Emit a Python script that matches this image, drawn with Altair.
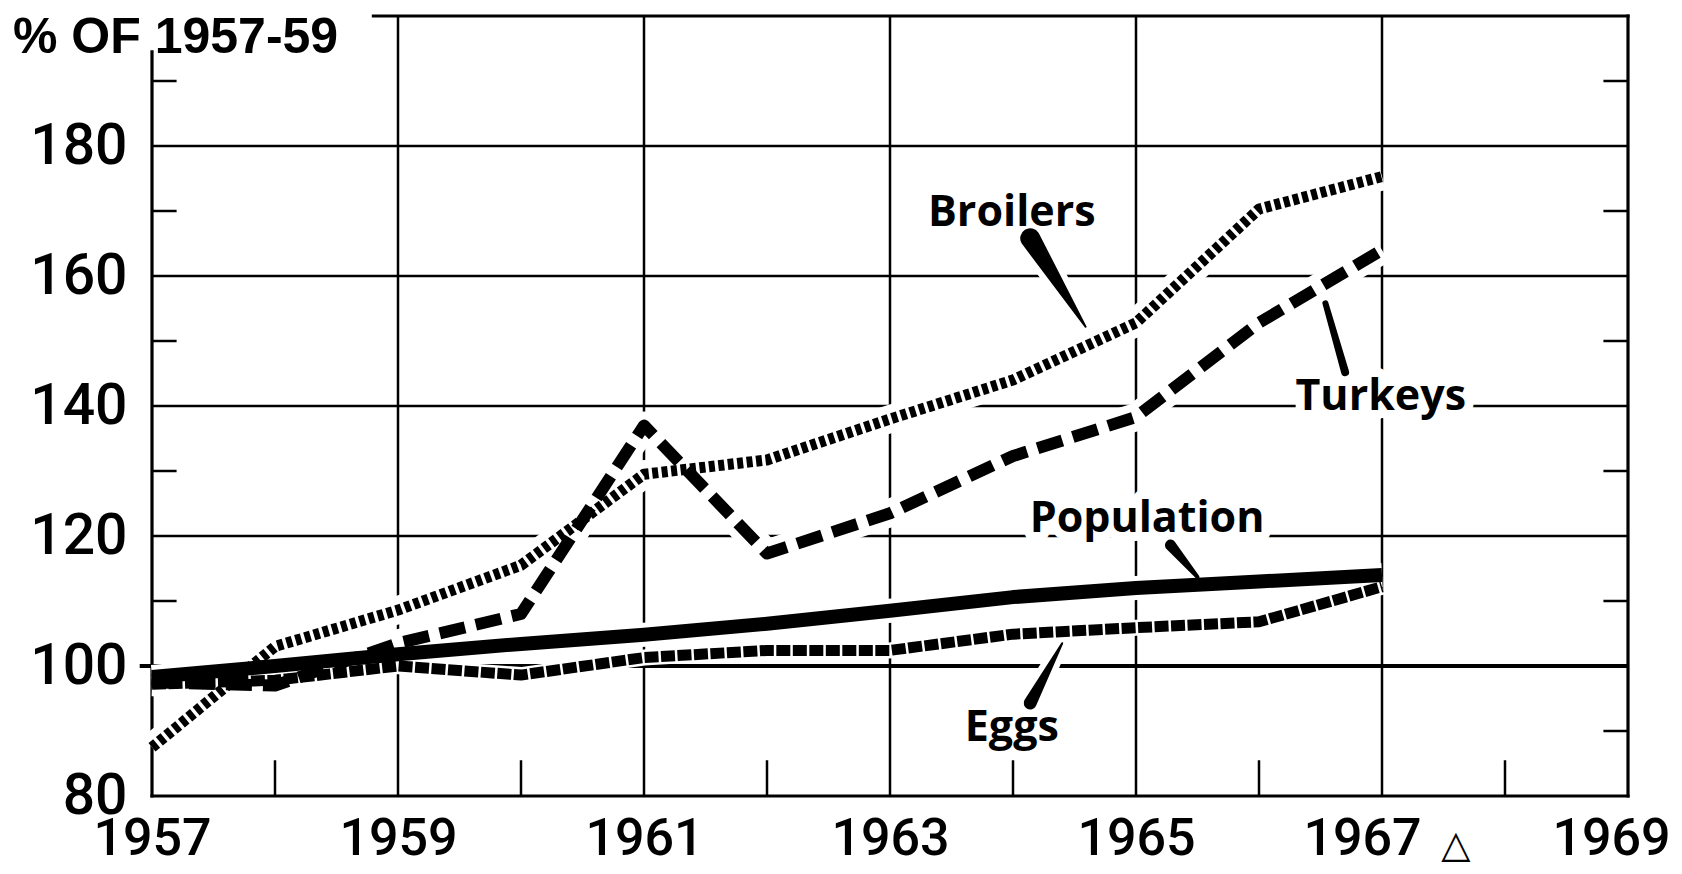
import altair as alt
import pandas as pd

# ---------------- data ----------------
years = [1957, 1958, 1959, 1960, 1961, 1962, 1963, 1964, 1965, 1966, 1967]
broilers = [87.5, 103.0, 108.6, 115.5, 129.5, 131.7, 138.0, 144.0, 152.8, 170.3, 175.3]
turkeys = [97.5, 97.0, 103.5, 108.0, 137.0, 117.3, 123.5, 132.3, 138.3, 152.8, 164.0]
population = [98.3, 100.0, 101.8, 103.4, 104.8, 106.5, 108.5, 110.6, 112.0, 113.0, 114.0]
eggs = [97.2, 97.8, 100.0, 98.6, 101.3, 102.4, 102.4, 104.9, 105.9, 106.8, 112.2]

x_tick_values = [1957, 1959, 1961, 1963, 1965, 1967, 1969]
y_tick_values = [80, 100, 120, 140, 160, 180]
x_grid_values = [1959, 1961, 1963, 1965, 1967]
y_grid_values = [120, 140, 160, 180]
minor_years = [1958, 1960, 1962, 1964, 1966, 1968]
minor_values = [90, 110, 130, 150, 170, 190]

title_text = "% OF 1957-59"

label_names = ["Broilers", "Turkeys", "Population", "Eggs"]
label_x = [1963.99, 1966.99, 1965.09, 1963.99]
label_y = [167.7, 139.4, 120.6, 88.5]

# leader wedges: start point / end point with widths
leader_names = ["Broilers", "Turkeys", "Population", "Eggs"]
leader_x0 = [1964.14, 1966.54, 1965.28, 1964.40]
leader_y0 = [165.8, 155.8, 118.6, 103.5]
leader_w0 = [20, 6, 11, 2]
leader_x1 = [1964.59, 1966.70, 1965.50, 1964.14]
leader_y1 = [152.2, 145.2, 113.7, 94.3]
leader_w1 = [2, 8, 4, 13]

marker_x = [1967.6]
marker_y = [72.3]
marker_text = ["\u25b3"]

# ---------------- tables ----------------
series_df = pd.DataFrame(
    [{"year": y, "value": v, "series": "Broilers"} for y, v in zip(years, broilers)]
    + [{"year": y, "value": v, "series": "Turkeys"} for y, v in zip(years, turkeys)]
    + [{"year": y, "value": v, "series": "Population"} for y, v in zip(years, population)]
    + [{"year": y, "value": v, "series": "Eggs"} for y, v in zip(years, eggs)]
)

grid_rows = []
for yr in x_grid_values:
    grid_rows.append({"x": yr, "x2": yr, "y": 80, "y2": 200})
for v in y_grid_values:
    grid_rows.append({"x": 1957, "x2": 1969, "y": v, "y2": v})
for yr in minor_years:
    grid_rows.append({"x": yr, "x2": yr, "y": 80, "y2": 85.5})
for v in minor_values:
    grid_rows.append({"x": 1957, "x2": 1957.2, "y": v, "y2": v})
    grid_rows.append({"x": 1968.8, "x2": 1969, "y": v, "y2": v})
grid_df = pd.DataFrame(grid_rows)

frame_df = pd.DataFrame([
    {"x": 1957, "x2": 1957, "y": 80, "y2": 194.5},      # left axis
    {"x": 1957, "x2": 1969, "y": 80, "y2": 80},          # bottom axis
    {"x": 1969, "x2": 1969, "y": 80, "y2": 200},         # right border
    {"x": 1958.8, "x2": 1969, "y": 200, "y2": 200},      # top border
])
hundred_df = pd.DataFrame([{"x": 1956.9, "x2": 1969, "y": 100, "y2": 100}])

label_df = pd.DataFrame({"name": label_names, "x": label_x, "y": label_y})

leader_rows = []
for i, n in enumerate(leader_names):
    leader_rows.append({"name": n, "order": 0, "x": leader_x0[i], "y": leader_y0[i], "w": leader_w0[i]})
    leader_rows.append({"name": n, "order": 1, "x": leader_x1[i], "y": leader_y1[i], "w": leader_w1[i]})
leader_df = pd.DataFrame(leader_rows)

marker_df = pd.DataFrame({"x": marker_x, "y": marker_y, "t": marker_text})
title_df = pd.DataFrame({"t": [title_text]})

# ---------------- scales / axes ----------------
XSCALE = alt.Scale(domain=[1957, 1969], nice=False, zero=False)
YSCALE = alt.Scale(domain=[80, 200], nice=False, zero=False)
XAXIS = alt.Axis(
    values=x_tick_values, title=None, grid=False, domain=False, ticks=False,
    format="d", labelFont="Roboto", labelFontWeight=500, labelFontSize=52,
    labelPadding=17, labelColor="black", labelFlush=False, labelOverlap=False,
    labelOffset={
        "condition": [
            {"test": "datum.value == 1967", "value": -20},
            {"test": "datum.value == 1969", "value": -17},
        ],
        "value": 0,
    },
)
YAXIS = alt.Axis(
    values=y_tick_values, title=None, grid=False, domain=False, ticks=False,
    format="d", labelFont="Roboto", labelFontWeight=500, labelFontSize=57, labelPadding=25,
    labelColor="black", labelFlush=False, labelOverlap=False,
)


def X(field="year"):
    return alt.X(f"{field}:Q", scale=XSCALE, axis=XAXIS)


def Y(field="value"):
    return alt.Y(f"{field}:Q", scale=YSCALE, axis=YAXIS)


def series_line(name, **mk):
    return (
        alt.Chart(series_df)
        .transform_filter(alt.datum.series == name)
        .mark_line(**mk)
        .encode(x=X(), y=Y())
    )


# ---------------- layers ----------------
grid = alt.Chart(grid_df).mark_rule(color="black", strokeWidth=2.5).encode(
    x=X("x"), x2="x2", y=Y("y"), y2="y2"
)
frame = alt.Chart(frame_df).mark_rule(color="black", strokeWidth=3.2, strokeCap="square").encode(
    x=X("x"), x2="x2", y=Y("y"), y2="y2"
)
hundred = alt.Chart(hundred_df).mark_rule(color="black", strokeWidth=4).encode(
    x=X("x"), x2="x2", y=Y("y"), y2="y2"
)

halos = [
    series_line("Broilers", color="white", strokeWidth=28, strokeCap="butt", strokeJoin="round"),
    series_line("Turkeys", color="white", strokeWidth=28, strokeCap="butt", strokeJoin="round"),
    series_line("Population", color="white", strokeWidth=24, strokeCap="butt", strokeJoin="round"),
    series_line("Eggs", color="white", strokeWidth=16, strokeCap="butt", strokeJoin="round"),
]

leader_halo = (
    alt.Chart(leader_df)
    .transform_calculate(hw="datum.w + 12")
    .mark_trail(color="white")
    .encode(x=X("x"), y=Y("y"), size=alt.Size("hw:Q", scale=None, legend=None),
            detail="name:N", order="order:Q")
)

label_halo = alt.Chart(label_df).mark_text(
    font="Open Sans", fontWeight="bold", fontSize=43, baseline="alphabetic", align="center",
    fill="white", stroke="white", strokeWidth=18, strokeJoin="round",
).encode(x=X("x"), y=Y("y"), text="name:N")

lines = [
    series_line("Population", color="black", strokeWidth=14, strokeCap="butt", strokeJoin="round"),
    series_line("Eggs", color="black", strokeWidth=11, strokeDash=[14, 2.5], strokeCap="butt", strokeJoin="round"),
    series_line("Turkeys", color="black", strokeWidth=12, strokeDash=[26, 11], strokeCap="butt", strokeJoin="round"),
    series_line("Broilers", color="black", strokeWidth=11, strokeDash=[6, 3.5], strokeCap="butt", strokeJoin="round"),
]

leaders = (
    alt.Chart(leader_df)
    .mark_trail(color="black")
    .encode(x=X("x"), y=Y("y"), size=alt.Size("w:Q", scale=None, legend=None),
            detail="name:N", order="order:Q")
)

labels = alt.Chart(label_df).mark_text(
    font="Open Sans", fontWeight="bold", fontSize=43, baseline="alphabetic", align="center",
    color="black",
).encode(x=X("x"), y=Y("y"), text="name:N")

title = alt.Chart(title_df).mark_text(
    font="Liberation Sans", fontWeight="bold", fontSize=50, baseline="alphabetic", align="left",
    x=-139, y=37, color="black",
).encode(text="t:N")

marker = alt.Chart(marker_df).mark_text(
    font="DejaVu Sans", fontSize=38, baseline="middle", align="center", color="black",
).encode(x=X("x"), y=Y("y"), text="t:N")

chart = (
    alt.layer(
        grid, frame, hundred, *halos, leader_halo, label_halo,
        *lines, leaders, labels, title, marker,
    )
    .properties(
        width=1476, height=780,
        padding={"left": 144, "top": 8, "right": 46, "bottom": 70},
        autosize=alt.AutoSizeParams(type="none"),
        background="white",
    )
    .configure_view(stroke="transparent")
)

chart.save("out.html", embed_options={"renderer": "svg", "actions": False})
